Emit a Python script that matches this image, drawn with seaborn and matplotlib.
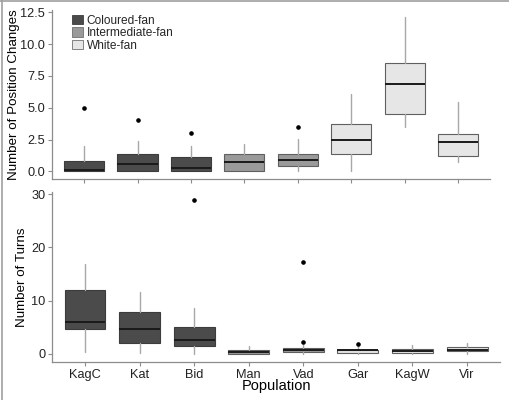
import matplotlib
matplotlib.use("Agg")
import matplotlib.pyplot as plt
from matplotlib.patches import Patch
from matplotlib.lines import Line2D
import seaborn as sns

# ---- data ----
populations = ["KagC", "Kat", "Bid", "Man", "Vad", "Gar", "KagW", "Vir"]
fan_type = ["Coloured-fan", "Coloured-fan", "Coloured-fan",
            "Intermediate-fan", "Intermediate-fan",
            "White-fan", "White-fan", "White-fan"]

pos_med = [0.10, 0.58, 0.26, 0.71, 0.89, 2.48, 6.88, 2.32]
pos_q1 = [0.0, 0.0, 0.0, 0.0, 0.45, 1.35, 4.50, 1.20]
pos_q3 = [0.85, 1.36, 1.10, 1.36, 1.36, 3.73, 8.50, 2.93]
pos_lo = [0.0, 0.0, 0.0, 0.0, 0.0, 0.0, 3.46, 0.76]
pos_hi = [2.0, 2.35, 2.0, 2.15, 2.55, 6.08, 12.1, 5.47]
pos_out = [[5.0], [4.0], [3.0], [], [3.5], [], [], []]

turn_med = [6.0, 4.63, 2.7, 0.30, 0.70, 0.67, 0.50, 0.80]
turn_q1 = [4.63, 2.06, 1.56, 0.0, 0.37, 0.10, 0.10, 0.50]
turn_q3 = [12.0, 7.94, 5.07, 0.75, 1.10, 0.75, 0.90, 1.25]
turn_lo = [0.4, 0.1, 0.0, 0.0, 0.0, 0.0, 0.0, 0.0]
turn_hi = [16.9, 11.7, 8.6, 1.4, 1.75, 1.5, 1.6, 2.0]
turn_out = [[], [], [28.9], [], [2.2, 17.2], [1.94], [], []]

fan_colors = {"Coloured-fan": "#4b4b4b",
              "Intermediate-fan": "#9a9a9a",
              "White-fan": "#e6e6e6"}

sns.set_style("ticks")
plt.rcParams["font.family"] = ["Liberation Sans", "DejaVu Sans"]

fig = plt.figure(figsize=(5.1, 4.0), dpi=100)
ax1 = fig.add_axes([0.102, 0.5525, 0.859, 0.423])
ax2 = fig.add_axes([0.1025, 0.0958, 0.8775, 0.4237])


def draw(ax, med, q1, q3, lo, hi, out):
    stats = []
    for i in range(len(populations)):
        stats.append(dict(med=med[i], q1=q1[i], q3=q3[i],
                          whislo=lo[i], whishi=hi[i], fliers=out[i]))
    res = ax.bxp(stats, positions=range(len(populations)), widths=0.75,
                 patch_artist=True, showfliers=True,
                 boxprops=dict(linewidth=0.8),
                 whiskerprops=dict(color="#a8a8a8", linewidth=1.0),
                 capprops=dict(linewidth=0),
                 medianprops=dict(color="#1a1a1a", linewidth=1.4),
                 flierprops=dict(marker="o", markersize=2.3,
                                 markerfacecolor="black",
                                 markeredgecolor="black"))
    for box, ft in zip(res["boxes"], fan_type):
        c = fan_colors[ft]
        box.set_facecolor(c)
        box.set_edgecolor("#3c3c3c" if ft == "Coloured-fan" else "#606060")
    ax.set_xlim(-0.6, len(populations) - 0.4)
    for s in ["top", "right"]:
        ax.spines[s].set_visible(False)
    for s in ["left", "bottom"]:
        ax.spines[s].set_color("#8c8c8c")
        ax.spines[s].set_linewidth(0.9)
    ax.tick_params(axis="both", colors="#8c8c8c", length=3, width=0.8,
                   labelcolor="#222222", labelsize=9.2, pad=2)
    ax.grid(False)


draw(ax1, pos_med, pos_q1, pos_q3, pos_lo, pos_hi, pos_out)
draw(ax2, turn_med, turn_q1, turn_q3, turn_lo, turn_hi, turn_out)

ax1.set_ylim(-0.6, 12.7)
ax1.set_yticks([0, 2.5, 5.0, 7.5, 10.0, 12.5])
ax1.set_yticklabels(["0.0", "2.5", "5.0", "7.5", "10.0", "12.5"])
ax1.set_xticks(range(len(populations)))
ax1.set_xticklabels([])
ax1.set_ylabel("Number of Position Changes", fontsize=9.6, color="black",
               labelpad=0.5)

ax2.set_ylim(-1.45, 30.35)
ax2.set_yticks([0, 10, 20, 30])
ax2.set_xticks(range(len(populations)))
ax2.set_xticklabels(populations)
ax2.set_ylabel("Number of Turns", fontsize=9.6, color="black", labelpad=2)
ax2.set_xlabel("Population", fontsize=10.5, color="black", labelpad=-1)

handles = [Patch(facecolor=fan_colors[k],
                 edgecolor="#3c3c3c" if k == "Coloured-fan" else "#707070",
                 linewidth=0.6, label=k)
           for k in ["Coloured-fan", "Intermediate-fan", "White-fan"]]
ax1.legend(handles=handles, loc="upper left", bbox_to_anchor=(0.035, 1.0),
           frameon=False, fontsize=8.6, handlelength=0.9, handleheight=0.85,
           handletextpad=0.3, labelspacing=0.05, borderaxespad=0.0)

# figure border (top and left)
fig.add_artist(Line2D([0, 1], [0.998, 0.998], transform=fig.transFigure,
                      color="#a0a0a0", linewidth=1.2))
fig.add_artist(Line2D([0.004, 0.004], [0, 1], transform=fig.transFigure,
                      color="#a0a0a0", linewidth=1.2))

fig.savefig("out.png", dpi=100)
